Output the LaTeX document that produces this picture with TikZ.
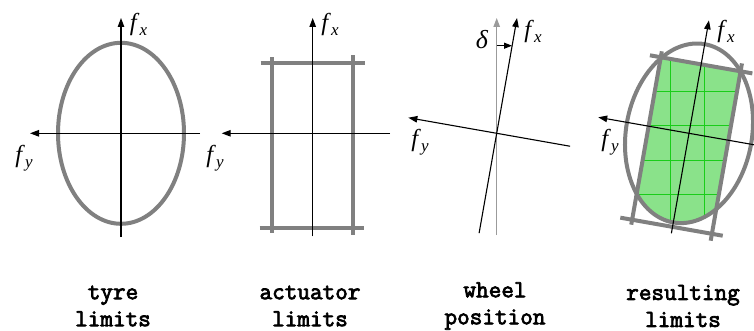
\documentclass[tikz,border=0pt]{standalone}
\usepackage{fontspec}
\setmainfont{Liberation Serif}
\newfontfamily\monolab[FakeBold=3]{Latin Modern Mono}
\usetikzlibrary{arrows.meta}
\definecolor{limgray}{RGB}{128,128,128}
\definecolor{axgray}{RGB}{155,155,155}
\definecolor{fillgreen}{RGB}{138,226,138}
\definecolor{gridgreen}{RGB}{25,205,25}
\newcommand\subl[1]{\kern0.3pt\raisebox{-5pt}{\fontsize{17}{17}\selectfont\itshape #1}}
\newcommand\fxlab{\textit{f}\subl{x}}
\newcommand\fylab{\textit{f}\subl{y}}
\begin{document}
\begin{tikzpicture}[x=1pt,y=-1pt,
  axis/.style={line width=1.1pt,-{Triangle[length=9pt,width=6.5pt]}},
  grayaxis/.style={line width=1.1pt,draw=axgray,-{Triangle[length=9pt,width=6.5pt]}},
  limit/.style={line width=4pt,draw=limgray},
  gridline/.style={line width=0.9pt,draw=gridgreen},
  mathlab/.style={inner sep=0pt,font=\fontsize{24.5}{24.5}\selectfont},
  caption/.style={inner sep=0pt,align=center,font=\monolab\fontsize{24.5}{27}\selectfont}]
\useasboundingbox (0,0) rectangle (754,331);

% ---------- panel 1: tyre limits
\coordinate (c1) at (121,133.3);
\draw[limit] (c1) ellipse [x radius=63pt, y radius=90.5pt];
\coordinate (a1b) at (121,237);
\coordinate (a1t) at (121,18);
\coordinate (a1r) at (200,133.3);
\coordinate (a1l) at (30,133.3);
\draw[axis] (a1b) -- (a1t);
\draw[axis] (a1r) -- (a1l);
\node[mathlab] (fx1) at (138.5,24) {\fxlab};
\node[mathlab] (fy1) at (24,158) {\fylab};

% ---------- panel 2: actuator limits
\begin{scope}[shift={(312.7,133.3)}]
  \coordinate (r2tl) at (-52,-70); \coordinate (r2tr) at (52,-70);
  \coordinate (r2bl) at (-53,95);  \coordinate (r2br) at (51,95);
  \coordinate (r2lt) at (-41,-76); \coordinate (r2lb) at (-41,100);
  \coordinate (r2rt) at (40,-78);  \coordinate (r2rb) at (40,102);
  \draw[limit] (r2tl) -- (r2tr);
  \draw[limit] (r2bl) -- (r2br);
  \draw[limit] (r2lt) -- (r2lb);
  \draw[limit] (r2rt) -- (r2rb);
  \coordinate (a2b) at (0,103);
  \coordinate (a2t) at (0,-115.3);
  \coordinate (a2r) at (77.3,0);
  \coordinate (a2l) at (-91,0);
  \draw[axis] (a2b) -- (a2t);
  \draw[axis] (a2r) -- (a2l);
\end{scope}
\node[mathlab] (fx2) at (330,24) {\fxlab};
\node[mathlab] (fy2) at (215,158) {\fylab};

% ---------- panel 3: wheel position
\coordinate (g3b) at (496.7,235);
\coordinate (g3t) at (496.7,18);
\draw[grayaxis] (g3b) -- (g3t);
\begin{scope}[shift={(496.7,133.3)},rotate=-10]
  \coordinate (a3b) at (0,101.4);
  \coordinate (a3t) at (0,-117);
  \coordinate (a3r) at (74.5,0);
  \coordinate (a3l) at (-89.7,0);
  \draw[axis] (a3b) -- (a3t);
  \draw[axis] (a3r) -- (a3l);
\end{scope}
\coordinate (d3s) at (496.7,45.7);
\coordinate (d3e) at (512,45.7);
\draw[line width=1.1pt,-{Triangle[length=8pt,width=6pt]}] (d3s) -- (d3e);
\node[mathlab,font=\fontsize{26}{26}\selectfont] (delta) at (482,40) {\textit{δ}};
\node[mathlab] (fx3) at (533,31) {\fxlab};
\node[mathlab] (fy3) at (420,142) {\fylab};

% ---------- panel 4: resulting limits
\begin{scope}
  \clip[shift={(689,133.3)},rotate=-10] (0,0) ellipse [x radius=63pt, y radius=90.5pt];
  \clip[shift={(689,133.3)},rotate=-10] (-41,-70) rectangle (40,95);
  \fill[fillgreen] (600,30) rectangle (754,250);
  \foreach \gx in {636,670,704,738} \draw[gridline] (\gx,30) -- (\gx,250);
  \foreach \gy in {91,125.5,160,194.5} \draw[gridline] (600,\gy) -- (754,\gy);
\end{scope}
\begin{scope}[shift={(689,133.3)},rotate=-10]
  \draw[limit] (0,0) ellipse [x radius=63pt, y radius=90.5pt];
  \coordinate (r4tl) at (-52,-70); \coordinate (r4tr) at (52,-70);
  \coordinate (r4bl) at (-53,95);  \coordinate (r4br) at (51,95);
  \coordinate (r4lt) at (-41,-76); \coordinate (r4lb) at (-41,100);
  \coordinate (r4rt) at (40,-78);  \coordinate (r4rb) at (40,102);
  \draw[limit] (r4tl) -- (r4tr);
  \draw[limit] (r4bl) -- (r4br);
  \draw[limit] (r4lt) -- (r4lb);
  \draw[limit] (r4rt) -- (r4rb);
  \coordinate (a4b) at (0,101.5);
  \coordinate (a4t) at (0,-114.7);
  \coordinate (a4r) at (74.5,0);
  \coordinate (a4l) at (-92.2,0);
  \draw[axis] (a4b) -- (a4t);
  \draw[axis] (a4r) -- (a4l);
\end{scope}
\node[mathlab] (fx4) at (726,31) {\fxlab};
\node[mathlab] (fy4) at (610,142) {\fylab};

% ---------- captions
\node[caption] (cap1) at (113,306) {tyre\\limits};
\node[caption] (cap2) at (310,306) {actuator\\limits};
\node[caption] (cap3) at (495,306) {wheel\\position};
\node[caption] (cap4) at (683,306) {resulting\\limits};
\end{tikzpicture}
\end{document}
